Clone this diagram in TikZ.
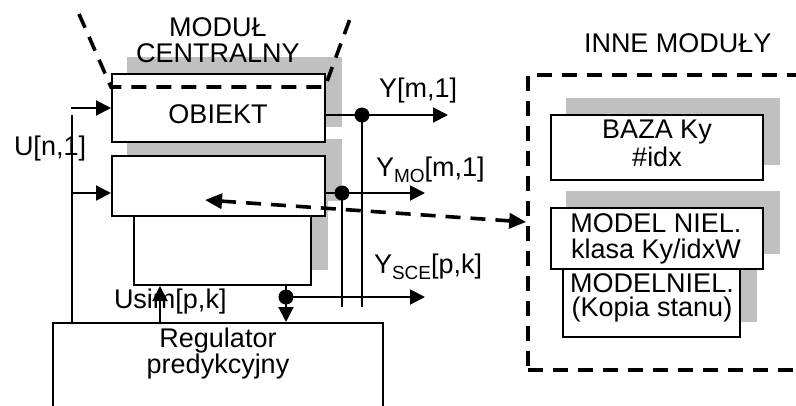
\documentclass[tikz,border=0pt]{standalone}
\usepackage{fontspec}
\setmainfont{Liberation Sans}
\usepackage{tikz}
\usetikzlibrary{arrows.meta,calc,positioning,backgrounds,fit}
\definecolor{shadowgray}{HTML}{C0C0C0}
\newcommand{\ysub}[1]{\raisebox{-6pt}{\fontsize{19}{19}\selectfont #1}}

\begin{document}
\begin{tikzpicture}[x=1pt,y=-1pt,line width=2pt,
  every node/.style={font=\fontsize{27}{26}\selectfont,inner sep=0pt},
  blk/.style={draw,fill=white,fit={#1}},
  bnd/.style={line width=3.6pt,dash pattern=on 15pt off 10pt},
  arr/.style={-{Triangle[length=15pt,width=15pt]}},
  darr/.style={bnd,{Triangle[length=17pt,width=15pt]}-{Triangle[length=17pt,width=15pt]}}]
  \useasboundingbox (0,0) rectangle (796,405);
  \clip (0,0) rectangle (796,405);
  \node[blk={(112,74) (325,142)}] (obiekt) {};
  \node[blk={(112,156) (325,216)}] (model) {};
  \node[blk={(134,216) (311,285)}] (sce) {};
  \node[blk={(53,323) (383,420)}] (reg) {};
  \node[blk={(551,115) (763,180)}] (baza) {};
  \node[blk={(551,208) (763,269)}] (niel) {};
  \node[blk={(563,269) (740,337)}] (kopia) {};
  \node[draw,bnd,fit={(528,75) (830,370)}] (inne) {};
  \begin{scope}[on background layer]
    \foreach \b in {obiekt,model,sce,baza,niel,kopia}{\fill[shadowgray] ([shift={(16,-16)}]\b.south west) rectangle ([shift={(16,-16)}]\b.north east);}
  \end{scope}
  \draw[bnd] (79,14) -- (111,87) -- (325,87) -- (351,16);
  \node[anchor=north,align=center] (central) at (218,17) {MODUŁ\\CENTRALNY};
  \node[anchor=base] (obiektlbl) at (218,123) {OBIEKT};
  \node[anchor=north,align=center,font=\fontsize{27}{24}\selectfont] (reglbl) at (218,327) {Regulator\\predykcyjny};
  \node[anchor=base west] (ulbl) at (13,155) {U[n,1]};
  \node[anchor=base west] (ylbl) at (378,97) {Y[m,1]};
  \node[anchor=base west] (ymolbl) at (375,176) {Y\ysub{MO}[m,1]};
  \node[anchor=base west] (yscelbl) at (373,273) {Y\ysub{SCE}[p,k]};
  \node[anchor=base west] (usimlbl) at (113,308) {Usim[p,k]};
  \node[anchor=base west] (innelbl) at (583,52) {INNE MODUŁY};
  \node[anchor=north,align=center,font=\fontsize{27}{28}\selectfont] (bazalbl) at (657,119) {BAZA Ky\\\#idx};
  \node[anchor=north,align=center] (niellbl) at (656,213) {MODEL NIEL.\\klasa Ky/idxW};
  \node[anchor=north,align=center,font=\fontsize{27}{24}\selectfont] (kopialbl) at (652,273) {MODELNIEL.\\(Kopia stanu)};
  \coordinate (u1) at (71,108);
  \coordinate (u2) at (71,193);
  \coordinate (ubar) at (72,115);
  \coordinate (us) at (160,0);
  \coordinate (j1) at (362,115);
  \coordinate (j2) at (342,193);
  \coordinate (j3) at (286,297);
  \coordinate (y1) at (448,115);
  \coordinate (y2) at (425,193);
  \coordinate (y3) at (425,297);
  \coordinate (ybot) at (0,307);
  \coordinate (mtip) at (205,200);
  \coordinate (dy) at (0,222);
  \draw[arr] (u1) -- (u1 -| obiekt.west);
  \draw[arr] (u2) -- (u2 -| model.west);
  \draw (ubar) -- (ubar |- reg.north);
  \draw[arr] (j1 -| obiekt.east) -- (y1);
  \draw[arr] (j2 -| model.east) -- (y2);
  \draw (j1) -- (j1 |- ybot);
  \draw (j2) -- (j2 |- ybot);
  \draw (j3 |- sce.south) -- (j3);
  \draw[arr] (j3) -- (j3 |- reg.north);
  \draw[arr] (j3) -- (y3);
  \foreach \j in {j1,j2,j3}{\fill (\j) circle (7.5pt);}
  \draw[arr] (us |- reg.north) -- (us |- sce.south);
  \draw[darr] (mtip) -- (inne.west |- dy);
\end{tikzpicture}
\end{document}
